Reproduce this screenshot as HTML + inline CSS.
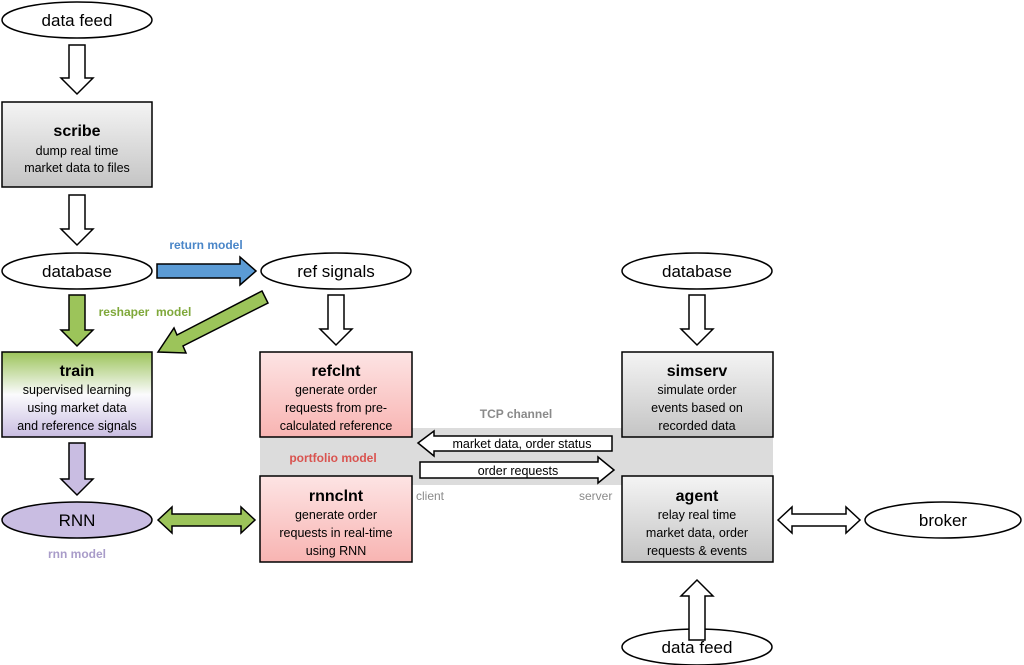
<!DOCTYPE html>
<html><head><meta charset="utf-8"><style>
html,body{margin:0;padding:0;background:#fff;width:1024px;height:665px;overflow:hidden}
svg text{font-family:"Liberation Sans",sans-serif;}
</style></head><body>
<svg width="1024" height="665" viewBox="0 0 1024 665" xmlns="http://www.w3.org/2000/svg">
<defs>
<linearGradient id="gray" x1="0" y1="0" x2="0" y2="1"><stop offset="0" stop-color="#f4f4f4"/><stop offset="1" stop-color="#c4c4c4"/></linearGradient>
<linearGradient id="red" x1="0" y1="0" x2="0" y2="1"><stop offset="0" stop-color="#fde4e4"/><stop offset="1" stop-color="#f8b4b2"/></linearGradient>
<linearGradient id="tr" x1="0" y1="0" x2="0" y2="1"><stop offset="0" stop-color="#9cc45a"/><stop offset="0.5" stop-color="#fbfbfd"/><stop offset="1" stop-color="#c9bde2"/></linearGradient>
</defs>
<rect x="260" y="428" width="513" height="57" fill="#dcdcdc"/>
<g stroke="#000" stroke-width="1.5">
<ellipse cx="77" cy="20" rx="75" ry="18" fill="#fff"/>
<ellipse cx="77" cy="271" rx="75" ry="18" fill="#fff"/>
<ellipse cx="336" cy="271" rx="75" ry="18" fill="#fff"/>
<ellipse cx="697" cy="271" rx="75" ry="18" fill="#fff"/>
<ellipse cx="77" cy="520" rx="75" ry="18" fill="#c9bde2"/>
<ellipse cx="943" cy="520" rx="78" ry="18" fill="#fff"/>
<ellipse cx="697" cy="647" rx="75" ry="18" fill="#fff"/>
<rect x="2" y="102" width="150" height="85" fill="url(#gray)"/>
<rect x="2" y="352" width="150" height="85" fill="url(#tr)"/>
<rect x="260" y="352" width="152" height="85" fill="url(#red)"/>
<rect x="260" y="476" width="152" height="86" fill="url(#red)"/>
<rect x="622" y="352" width="151" height="85" fill="url(#gray)"/>
<rect x="622" y="476" width="151" height="86" fill="url(#gray)"/>
<!-- down arrows -->
<polygon points="69,45 85,45 85,78 93,78 77,94 61,78 69,78" fill="#fff"/>
<polygon points="69,195 85,195 85,229 93,229 77,245 61,229 69,229" fill="#fff"/>
<polygon points="69,295 85,295 85,330 93,330 77,346 61,330 69,330" fill="#9cc45a"/>
<polygon points="69,443 85,443 85,479 93,479 77,495 61,479 69,479" fill="#c9bde2"/>
<polygon points="328,295 344,295 344,329 352,329 336,345 320,329 328,329" fill="#fff"/>
<polygon points="689,295 705,295 705,329 713,329 697,345 681,329 689,329" fill="#fff"/>
<polygon points="689,640 705,640 705,596 713,596 697,580 681,596 689,596" fill="#fff"/>
<!-- blue -->
<polygon points="157,264 240,264 240,257 256,271 240,285 240,278 157,278" fill="#5b9bd5"/>
<!-- diagonal green -->
<polygon points="262,291 268,303 183,346 186,353 158,352 174,328 177,335" fill="#9cc45a"/>
<!-- double arrows -->
<polygon points="158,520 172,507 172,514 241,514 241,507 255,520 241,533 241,526 172,526 172,533" fill="#9cc45a"/>
<polygon points="778,520 792,507 792,514 846,514 846,507 860,520 846,533 846,526 792,526 792,533" fill="#fff"/>
<!-- TCP arrows -->
<polygon points="418,443 434,431 434,436 612,436 612,451 434,451 434,456" fill="#fff"/>
<polygon points="420,462 598,462 598,457 614,470 598,483 598,478 420,478" fill="#fff"/>
</g>
<g font-size="17" text-anchor="middle" fill="#000">
<text x="77" y="26">data feed</text>
<text x="77" y="277">database</text>
<text x="336" y="277">ref signals</text>
<text x="697" y="277">database</text>
<text x="77" y="526">RNN</text>
<text x="943" y="526">broker</text>
<text x="697" y="653">data feed</text>
</g>
<g text-anchor="middle" fill="#000">
<text x="77" y="136" font-size="16" font-weight="bold">scribe</text>
<text x="77" y="155" font-size="12.5">dump real time</text>
<text x="77" y="172" font-size="12.5">market data to files</text>
<text x="77" y="376" font-size="16" font-weight="bold">train</text>
<text x="77" y="394" font-size="12.5">supervised learning</text>
<text x="77" y="412" font-size="12.5">using market data</text>
<text x="77" y="430" font-size="12.5">and reference signals</text>
<text x="336" y="376" font-size="16" font-weight="bold">refclnt</text>
<text x="336" y="394" font-size="12.5">generate order</text>
<text x="336" y="412" font-size="12.5">requests from pre-</text>
<text x="336" y="430" font-size="12.5">calculated reference</text>
<text x="336" y="501" font-size="16" font-weight="bold">rnnclnt</text>
<text x="336" y="519" font-size="12.5">generate order</text>
<text x="336" y="537" font-size="12.5">requests in real-time</text>
<text x="336" y="555" font-size="12.5">using RNN</text>
<text x="697" y="376" font-size="16" font-weight="bold">simserv</text>
<text x="697" y="394" font-size="12.5">simulate order</text>
<text x="697" y="412" font-size="12.5">events based on</text>
<text x="697" y="430" font-size="12.5">recorded data</text>
<text x="697" y="501" font-size="16" font-weight="bold">agent</text>
<text x="697" y="519" font-size="12.5">relay real time</text>
<text x="697" y="537" font-size="12.5">market data, order</text>
<text x="697" y="555" font-size="12.5">requests &amp; events</text>
<text x="522" y="448" font-size="12.5">market data, order status</text>
<text x="518" y="475" font-size="12.5">order requests</text>
</g>
<g font-size="12" font-weight="bold" text-anchor="middle">
<text x="206" y="249" fill="#4a86c8">return model</text>
<text x="145" y="316" fill="#7fa83a">reshaper&#160; model</text>
<text x="77" y="558" fill="#a99cc9">rnn model</text>
<text x="516" y="418" fill="#8a8a8a">TCP channel</text>
<text x="333" y="462" fill="#d9534f">portfolio model</text>
</g>
<g font-size="12" fill="#8a8a8a">
<text x="416" y="500">client</text>
<text x="579" y="500">server</text>
</g>
</svg>
</body></html>
